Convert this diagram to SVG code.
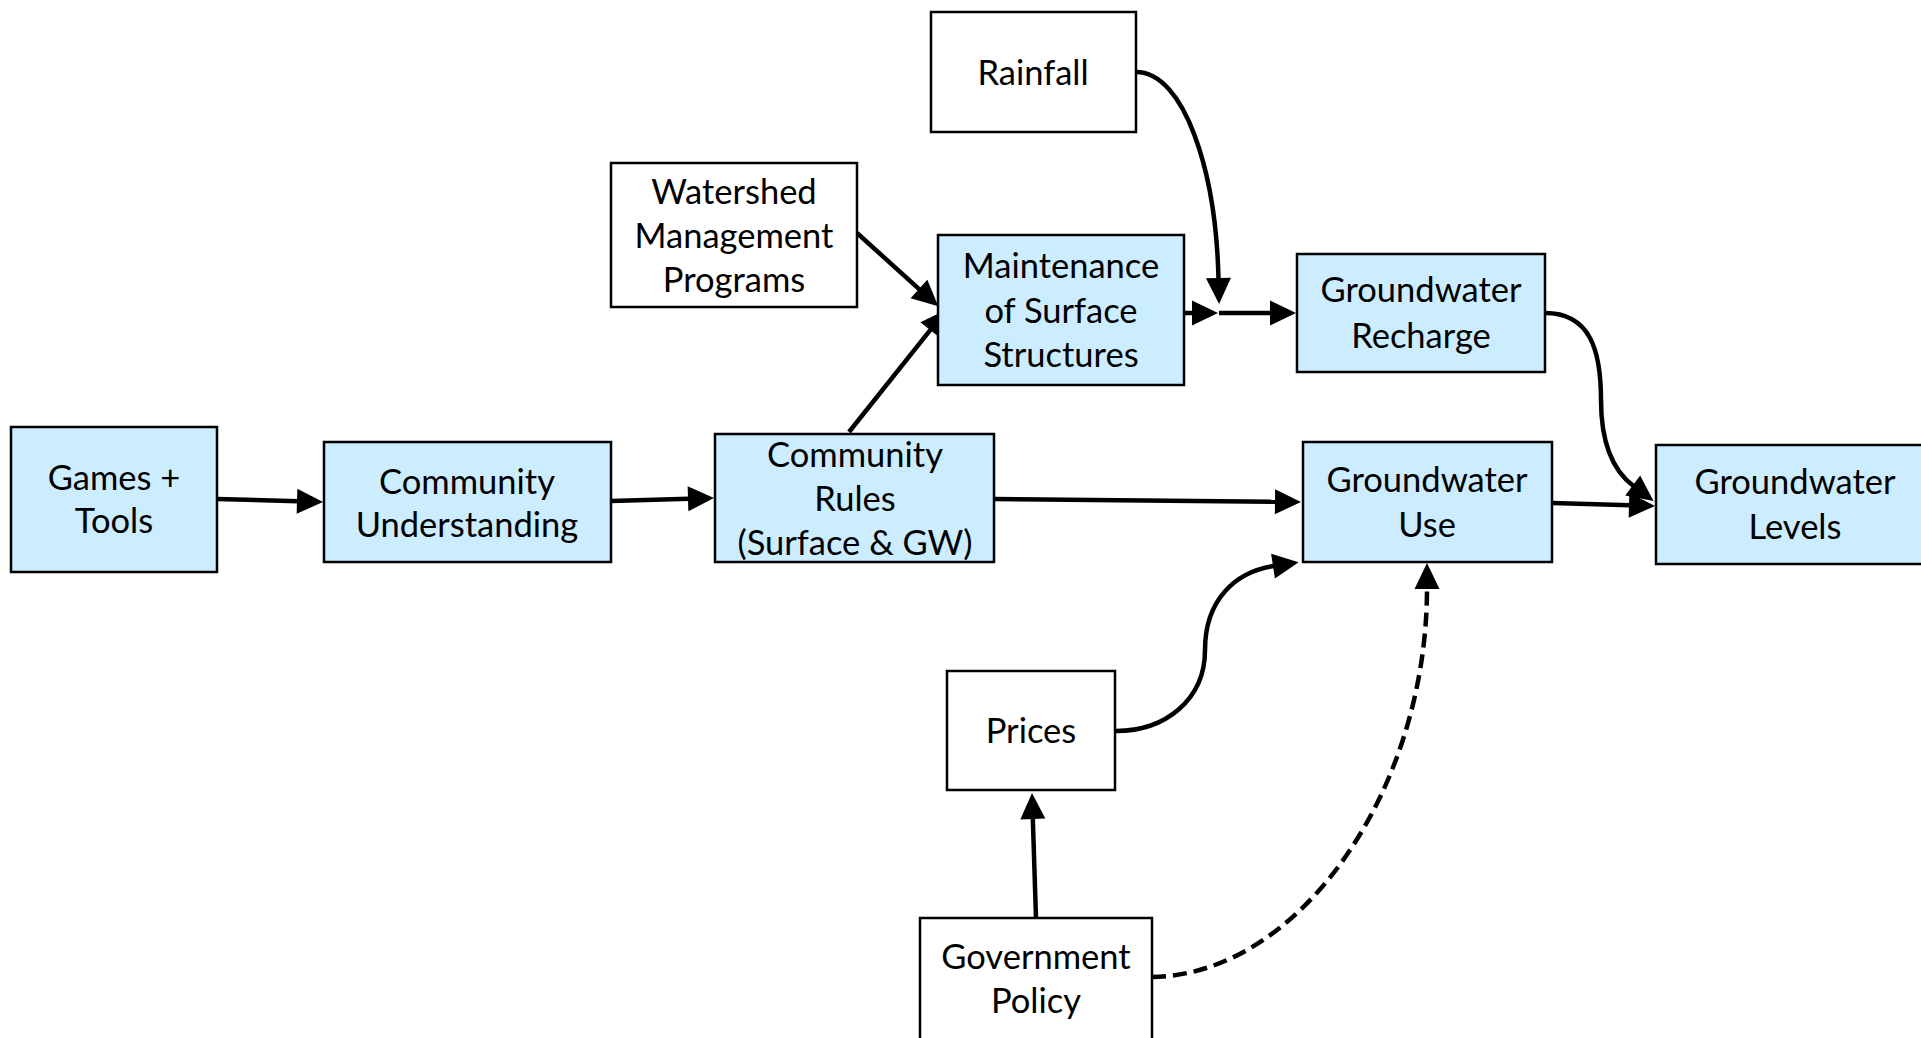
<svg xmlns="http://www.w3.org/2000/svg" width="1921" height="1038" viewBox="0 0 1921 1038">
<defs>
<style>
.blue{fill:#CCECFF;stroke:#000;stroke-width:2.5}
.white{fill:#fff;stroke:#000;stroke-width:2.5}
.t{font-family:Lato,"Open Sans","Liberation Sans",sans-serif;font-size:34.5px;fill:#000;text-anchor:middle}
.c{fill:none;stroke:#000;stroke-width:4.5}
.d{fill:none;stroke:#000;stroke-width:4.5;stroke-dasharray:14 7}
</style>
<marker id="ah" markerUnits="userSpaceOnUse" markerWidth="28" markerHeight="26" refX="1" refY="12.5" orient="auto" overflow="visible">
<path d="M0,0 L26,12.5 L0,25 z" fill="#000"/>
</marker>
</defs>
<rect width="1921" height="1038" fill="#fff"/>
<g id="connectors">
<path class="c" d="M217,499 L298,501.3" marker-end="url(#ah)"/>
<path class="c" d="M611,501 L689,498.8" marker-end="url(#ah)"/>
<path class="c" d="M994,499 L1276,501.7" marker-end="url(#ah)"/>
<path class="c" d="M1552,503 L1630,505.2" marker-end="url(#ah)"/>
<path class="c" d="M857,233 L919.7,289.6" marker-end="url(#ah)"/>
<path class="c" d="M849,432 L930.8,329.3" marker-end="url(#ah)"/>
<path class="c" d="M1184,313 L1193,313" marker-end="url(#ah)"/>
<path class="c" d="M1136,72 C1184,72 1216,170 1218.5,279" marker-end="url(#ah)"/>
<path class="c" d="M1219,313 L1271,313" marker-end="url(#ah)"/>
<path class="c" d="M1545,313 C1590,313 1601,350 1601,400 C1601,440 1612,470 1633.5,486" marker-end="url(#ah)"/>
<path class="c" d="M1116,731 C1165,731 1205,700 1205,650 C1205,600 1235,572 1274,566" marker-end="url(#ah)"/>
<path class="c" d="M1036,918 L1032.8,818" marker-end="url(#ah)"/>
<path class="d" d="M1152,977 C1300,975 1427,790 1427,588" marker-end="url(#ah)"/>
</g>
<g id="games-tools">
<rect class="blue" x="11" y="427" width="206" height="145"/>
<text class="t" x="114" y="490">Games +</text>
<text class="t" x="114" y="533">Tools</text>
</g>
<g id="community-understanding">
<rect class="blue" x="324" y="442" width="287" height="120"/>
<text class="t" x="467" y="494">Community</text>
<text class="t" x="467" y="537">Understanding</text>
</g>
<g id="community-rules">
<rect class="blue" x="715" y="434" width="279" height="128"/>
<text class="t" x="855" y="467">Community</text>
<text class="t" x="855" y="511">Rules</text>
<text class="t" x="855" y="555">(Surface &amp; GW)</text>
</g>
<g id="watershed">
<rect class="white" x="611" y="163" width="246" height="144"/>
<text class="t" x="734" y="204">Watershed</text>
<text class="t" x="734" y="248">Management</text>
<text class="t" x="734" y="292">Programs</text>
</g>
<g id="maintenance">
<rect class="blue" x="938" y="235" width="246" height="150"/>
<text class="t" x="1061" y="278">Maintenance</text>
<text class="t" x="1061" y="323">of Surface</text>
<text class="t" x="1061" y="367">Structures</text>
</g>
<g id="rainfall">
<rect class="white" x="931" y="12" width="205" height="120"/>
<text class="t" x="1033" y="85">Rainfall</text>
</g>
<g id="gw-recharge">
<rect class="blue" x="1297" y="254" width="248" height="118"/>
<text class="t" x="1421" y="302">Groundwater</text>
<text class="t" x="1421" y="348">Recharge</text>
</g>
<g id="gw-use">
<rect class="blue" x="1303" y="442" width="249" height="120"/>
<text class="t" x="1427" y="492">Groundwater</text>
<text class="t" x="1427" y="537">Use</text>
</g>
<g id="gw-levels">
<rect class="blue" x="1656" y="445" width="280" height="119"/>
<text class="t" x="1795" y="494">Groundwater</text>
<text class="t" x="1795" y="539">Levels</text>
</g>
<g id="prices">
<rect class="white" x="947" y="671" width="168" height="119"/>
<text class="t" x="1031" y="743">Prices</text>
</g>
<g id="government-policy">
<rect class="white" x="920" y="918" width="232" height="125"/>
<text class="t" x="1036" y="969">Government</text>
<text class="t" x="1036" y="1013">Policy</text>
</g>
</svg>
